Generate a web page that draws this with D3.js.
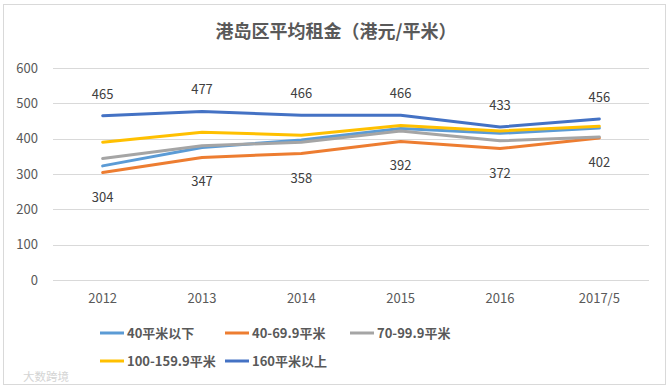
<!DOCTYPE html>
<html>
<head>
<meta charset="utf-8">
<script src="https://cdn.jsdelivr.net/npm/d3@7"></script>
<style>
  body { margin: 0; background: #fff; }
  text { font-family: "Noto Sans CJK SC", "Noto Sans", sans-serif; }
</style>
</head>
<body>
<div id="chart"></div>
<script>
// --- Data ---
const years = ["2012", "2013", "2014", "2015", "2016", "2017/5"];
const seriesNames = ["40平米以下", "40-69.9平米", "70-99.9平米", "100-159.9平米", "160平米以上"];
const seriesColors = ["#5B9BD5", "#ED7D31", "#A5A5A5", "#FFC000", "#4472C4"];
const under40 = [323, 375, 396, 429, 415, 430];
const s40to70 = [304, 347, 358, 392, 372, 402];
const s70to100 = [344, 380, 390, 422, 394, 405];
const s100to160 = [390, 418, 410, 437, 422, 435];
const over160 = [465, 477, 466, 466, 433, 456];
const yTicks = [0, 100, 200, 300, 400, 500, 600];

const allSeries = [under40, s40to70, s70to100, s100to160, over160];

// --- Layout ---
const width = 671, height = 388;
const plot = { left: 53, right: 649, top: 68, bottom: 280 };

const svg = d3.select("#chart").append("svg")
  .attr("width", width).attr("height", height);

// chart border
svg.append("rect")
  .attr("x", 3.5).attr("y", 4.5)
  .attr("width", 662).attr("height", 380)
  .attr("fill", "#fff").attr("stroke", "#D9D9D9");

svg.append("text")
  .attr("x", 336).attr("y", 38)
  .attr("text-anchor", "middle")
  .attr("font-size", 18).attr("font-weight", "bold")
  .attr("fill", "#595959")
  .text("港岛区平均租金（港元/平米）");

const x = d3.scaleBand().domain(years).range([plot.left, plot.right]);
const y = d3.scaleLinear().domain([0, 600]).range([plot.bottom, plot.top]);

// gridlines
svg.append("g").selectAll("line").data(yTicks).join("line")
  .attr("x1", plot.left).attr("x2", plot.right)
  .attr("y1", d => Math.round(y(d)) + 0.5).attr("y2", d => Math.round(y(d)) + 0.5)
  .attr("stroke", "#D9D9D9");

// y axis labels
const yAxis = d3.axisLeft(y).tickValues(yTicks).tickSize(0).tickPadding(0);
const yG = svg.append("g").attr("transform", `translate(38,0)`).call(yAxis);
yG.select(".domain").remove();
yG.selectAll("text").attr("font-size", 13).attr("fill", "#595959")
  .style("font-family", '"Noto Sans CJK SC", sans-serif');

// x axis labels
const xAxis = d3.axisBottom(x).tickSize(0).tickPadding(0);
const xG = svg.append("g").attr("transform", `translate(0,${plot.bottom + 14})`).call(xAxis);
xG.select(".domain").remove();
xG.selectAll("text").attr("font-size", 13).attr("fill", "#595959")
  .style("font-family", '"Noto Sans CJK SC", sans-serif');

// lines
const line = d3.line()
  .x((d, i) => x(years[i]) + x.bandwidth() / 2)
  .y(d => y(d));

svg.append("g").selectAll("path").data(allSeries).join("path")
  .attr("d", d => line(d))
  .attr("fill", "none")
  .attr("stroke", (d, i) => seriesColors[i])
  .attr("stroke-width", 3)
  .attr("stroke-linejoin", "round")
  .attr("stroke-linecap", "round");

// data labels: top series above, orange series below
svg.append("g").selectAll("text").data(over160).join("text")
  .attr("x", (d, i) => x(years[i]) + x.bandwidth() / 2)
  .attr("y", d => y(d) - 17)
  .attr("text-anchor", "middle")
  .attr("font-size", 13).attr("fill", "#404040")
  .text(d => d);

svg.append("g").selectAll("text").data(s40to70).join("text")
  .attr("x", (d, i) => x(years[i]) + x.bandwidth() / 2)
  .attr("y", d => y(d) + 29)
  .attr("text-anchor", "middle")
  .attr("font-size", 13).attr("fill", "#404040")
  .text(d => d);

// legend
const legendPos = [[100, 333], [225, 333], [350, 333], [100, 361], [225, 361]];
const lg = svg.append("g").selectAll("g").data(seriesNames).join("g")
  .attr("transform", (d, i) => `translate(${legendPos[i][0]},${legendPos[i][1]})`);
lg.append("line")
  .attr("x1", 0).attr("x2", 24).attr("y1", 0).attr("y2", 0)
  .attr("stroke", (d, i) => seriesColors[i]).attr("stroke-width", 3);
lg.append("text")
  .attr("x", 27).attr("y", 5)
  .attr("font-size", 13).attr("font-weight", "bold").attr("fill", "#595959")
  .text(d => d);

// watermark
svg.append("text")
  .attr("x", 23).attr("y", 381)
  .attr("font-size", 11.5).attr("fill", "#D4D4D4")
  .text("大数跨境");
</script>
</body>
</html>
